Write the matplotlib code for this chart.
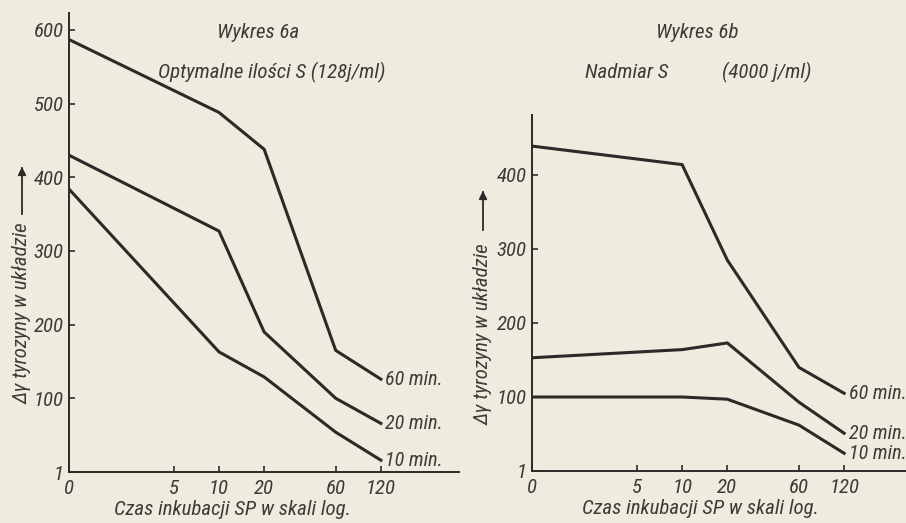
import numpy as np
import matplotlib.pyplot as plt

# czas inkubacji SP (min) i przyrost tyrozyny
czas_a = [0, 10, 20, 60, 120]
a_60 = [587, 488, 438, 165, 126]
a_20 = [430, 327, 190, 100, 66]
a_10 = [384, 163, 129, 54, 16]

czas_b = [0, 10, 20, 60, 120]
b_60 = [439, 414, 285, 140, 105]
b_20 = [153, 164, 173, 93, 51]
b_10 = [100, 100, 97, 62, 24]

xticks = [0, 5, 10, 20, 60, 120]
yticks_a = [0, 100, 200, 300, 400, 500, 600]
yticks_b = [0, 100, 200, 300, 400]
ytick_labels_a = ['1', '100', '200', '300', '400', '500', '600']
ytick_labels_b = ['1', '100', '200', '300', '400']
serie = ['60 min.', '20 min.', '10 min.']

tlo = '#eeebdf'
ink = '#2b2a27'
txt = '#3c3b37'
plt.rcParams['font.family'] = ['Roboto Condensed', 'Roboto', 'DejaVu Sans']
plt.rcParams['font.style'] = 'italic'
plt.rcParams['font.stretch'] = 'condensed'

W, H = 906, 523
fig = plt.figure(figsize=(W / 100, H / 100), dpi=100, facecolor=tlo)


def fwd(x):
    return np.log10(np.clip(x, 1, None))


def inv(y):
    return 10 ** y


def panel(box, czas, dane, yticks, ylabels, ymax, xmax):
    x0, y0, x1, y1 = box
    ax = fig.add_axes([x0 / W, 1 - y1 / H, (x1 - x0) / W, (y1 - y0) / H])
    ax.set_facecolor('none')
    ax.set_xscale('function', functions=(fwd, inv))
    for vals, lab in zip(dane, serie):
        ax.plot(czas, vals, color=ink, lw=2.2, solid_joinstyle='miter')
        ax.text(czas[-1] * 1.07, vals[-1], lab, color=txt, fontsize=14.5,
                va='center', ha='left')
    ax.set_xlim(0, xmax)
    ax.set_ylim(0, ymax)
    for s in ['top', 'right']:
        ax.spines[s].set_visible(False)
    for s in ['left', 'bottom']:
        ax.spines[s].set_color(ink)
        ax.spines[s].set_linewidth(1.4)
    ax.set_xticks(xticks)
    ax.set_xticklabels([str(t) for t in xticks])
    ax.set_yticks(yticks)
    ax.set_yticklabels(ylabels)
    ax.minorticks_off()
    ax.tick_params(direction='in', length=4, width=1.2, color=ink,
                   labelcolor=txt, labelsize=15)
    ax.tick_params(axis='y', pad=4)
    ax.tick_params(axis='x', pad=5)
    ax.set_xlabel('Czas inkubacji SP w skali log.', fontsize=15, color=txt,
                  labelpad=2)
    return ax


ax1 = panel((69, 13, 459, 472), czas_a, [a_60, a_20, a_10],
            yticks_a, ytick_labels_a, 623, 398)
ax2 = panel((532, 115, 906, 471), czas_b, [b_60, b_20, b_10],
            yticks_b, ytick_labels_b, 481, 310)
ax1.xaxis.set_label_coords(163 / 390, -0.062)
ax2.xaxis.set_label_coords(168 / 374, -0.08)

# podpisy osi y ze strzałką
for x, yc, ya, yb in [(22, 313, 214, 168), (483, 334, 230, 192)]:
    fig.text(x / W, 1 - yc / H, 'Δγ tyrozyny w układzie', rotation=90,
             ha='center', va='center', fontsize=15, color=txt)
    fig.add_artist(plt.Line2D([x / W, x / W], [1 - ya / H, 1 - yb / H],
                              color=ink, lw=1.3))
    ax1.annotate('', xy=(x, H - yb + 4), xytext=(x, H - yb - 8),
                 xycoords='figure pixels', textcoords='figure pixels',
                 arrowprops=dict(arrowstyle='-|>', color=ink, lw=1.2,
                                 mutation_scale=12))

# tytuły
fig.text(258 / W, 1 - 33 / H, 'Wykres 6a', ha='center', va='center',
         fontsize=15, color=txt)
fig.text(272 / W, 1 - 72 / H, 'Optymalne ilości S (128j/ml)', ha='center',
         va='center', fontsize=15, color=txt)
fig.text(697 / W, 1 - 33 / H, 'Wykres 6b', ha='center', va='center',
         fontsize=15, color=txt)
fig.text(627 / W, 1 - 72 / H, 'Nadmiar S', ha='center', va='center',
         fontsize=15, color=txt)
fig.text(767 / W, 1 - 72 / H, '(4000 j/ml)', ha='center', va='center',
         fontsize=15, color=txt)

fig.savefig('out.png', dpi=100, facecolor=tlo)
